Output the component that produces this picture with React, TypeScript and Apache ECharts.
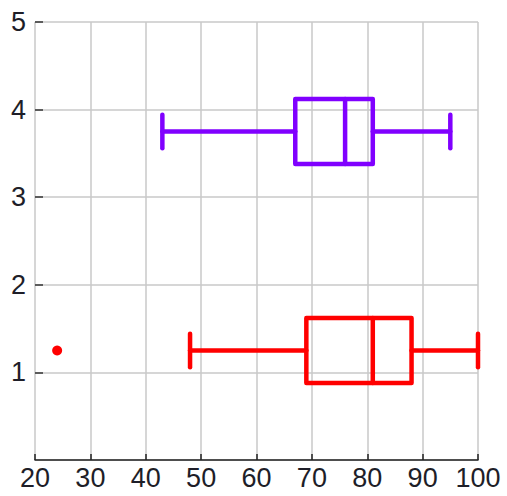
import React, { useEffect, useRef } from "react";
import * as echarts from "echarts";

// [y position, min, Q1, median, Q3, max]
const boxRed = [1.25, 48, 69, 81, 88, 100];
const boxPurple = [3.75, 43, 67, 76, 81, 95];
const outliersRed = [[24, 1.25]];
const xTicks = [20, 30, 40, 50, 60, 70, 80, 90, 100];
const yTicks = [0, 1, 2, 3, 4, 5];

const RED = "#ff0000";
const PURPLE = "#8000ff";
const FONT = "Liberation Sans, Arial, sans-serif";

function makeBox(data: number[], color: string) {
  return {
    type: "custom",
    data: [data],
    encode: { x: [1, 2, 3, 4, 5], y: 0 },
    renderItem: (_params: any, api: any) => {
      const y = api.value(0);
      const lo = api.value(1);
      const q1 = api.value(2);
      const med = api.value(3);
      const q3 = api.value(4);
      const hi = api.value(5);
      const pLo = api.coord([lo, y]);
      const pQ1 = api.coord([q1, y]);
      const pMed = api.coord([med, y]);
      const pQ3 = api.coord([q3, y]);
      const pHi = api.coord([hi, y]);
      const boxH = api.size([0, 0.37])[1];
      const capH = api.size([0, 0.19])[1];
      const cy = pLo[1];
      const style = {
        stroke: color,
        fill: "none",
        lineWidth: 4.5,
        lineCap: "round",
        lineJoin: "round",
      };
      return {
        type: "group",
        children: [
          { type: "rect", shape: { x: pQ1[0], y: cy - boxH, width: pQ3[0] - pQ1[0], height: boxH * 2 }, style },
          { type: "line", shape: { x1: pMed[0], y1: cy - boxH, x2: pMed[0], y2: cy + boxH }, style },
          { type: "line", shape: { x1: pLo[0], y1: cy, x2: pQ1[0], y2: cy }, style },
          { type: "line", shape: { x1: pQ3[0], y1: cy, x2: pHi[0], y2: cy }, style },
          { type: "line", shape: { x1: pLo[0], y1: cy - capH, x2: pLo[0], y2: cy + capH }, style },
          { type: "line", shape: { x1: pHi[0], y1: cy - capH, x2: pHi[0], y2: cy + capH }, style },
        ],
      };
    },
  };
}

export default function App() {
  const ref = useRef<HTMLDivElement>(null);
  useEffect(() => {
    const chart = echarts.init(ref.current!, null, { renderer: "svg" });
    chart.setOption({
      animation: false,
      backgroundColor: "#ffffff",
      grid: { left: 35, right: 29, top: 22, bottom: 36 },
      xAxis: {
        type: "value",
        min: xTicks[0],
        max: xTicks[xTicks.length - 1],
        interval: 10,
        axisLine: { show: true, lineStyle: { color: "#222", width: 1.5 } },
        axisTick: { show: true, inside: true, length: 6, lineStyle: { color: "#222", width: 1.5 } },
        axisLabel: {
          color: "#1e1e28",
          fontSize: 27,
          fontFamily: FONT,
          margin: 4,
          formatter: (v: number) => (xTicks.includes(v) ? String(v) : ""),
        },
        splitLine: { show: true, lineStyle: { color: "#c8c8c8", width: 1.5 } },
      },
      yAxis: {
        type: "value",
        min: yTicks[0],
        max: yTicks[yTicks.length - 1],
        interval: 1,
        axisLine: { show: false },
        axisTick: { show: true, inside: true, length: 8, lineStyle: { color: "#333", width: 1.5 } },
        axisLabel: {
          color: "#1e1e28",
          fontSize: 27,
          fontFamily: FONT,
          margin: 9,
          showMinLabel: false,
        },
        splitLine: { show: true, lineStyle: { color: "#c8c8c8", width: 1.5 } },
      },
      series: [
        makeBox(boxRed, RED),
        makeBox(boxPurple, PURPLE),
        {
          type: "scatter",
          data: outliersRed,
          symbol: "circle",
          symbolSize: 10,
          itemStyle: { color: RED, opacity: 1 },
        },
      ],
    });
    return () => chart.dispose();
  }, []);
  return (
    <div
      ref={ref}
      style={{ position: "fixed", left: 0, top: 0, width: 507, height: 496, background: "#fff" }}
    />
  );
}
